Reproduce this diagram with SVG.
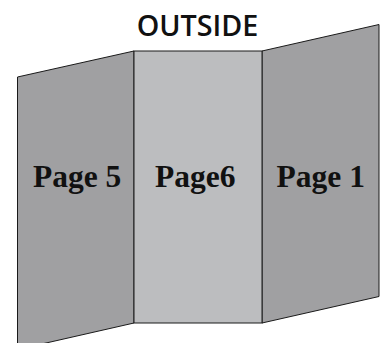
<svg xmlns="http://www.w3.org/2000/svg" width="380" height="343" viewBox="0 0 380 343">
<style>
.side{fill:#a0a0a2;stroke:#1a1a1a;stroke-width:1}
.mid{fill:#bcbdbf;stroke:#1a1a1a;stroke-width:1}
.pg{font-family:"Liberation Serif","Times New Roman",serif;font-weight:bold;font-size:31.5px;fill:#111;text-anchor:middle}
.title{font-family:"Open Sans","Liberation Sans",Arial,sans-serif;font-weight:600;font-size:28px;fill:#111;text-anchor:middle}
</style>
<rect width="380" height="343" fill="#fff"/>
<text class="title" x="197.5" y="36" textLength="121.7" lengthAdjust="spacingAndGlyphs">OUTSIDE</text>
<g id="page5">
<polygon class="side" points="17.5,77 134,51 134,323 17.5,349.5"/>
<text class="pg" x="77.2" y="186.5">Page 5</text>
</g>
<g id="page1">
<polygon class="side" points="262,51 379,24.5 379,296.5 262,323"/>
<text class="pg" x="320.8" y="186.5">Page 1</text>
</g>
<g id="page6">
<rect class="mid" x="134" y="51" width="128" height="272"/>
<text class="pg" x="195.3" y="186.5">Page6</text>
</g>
</svg>
